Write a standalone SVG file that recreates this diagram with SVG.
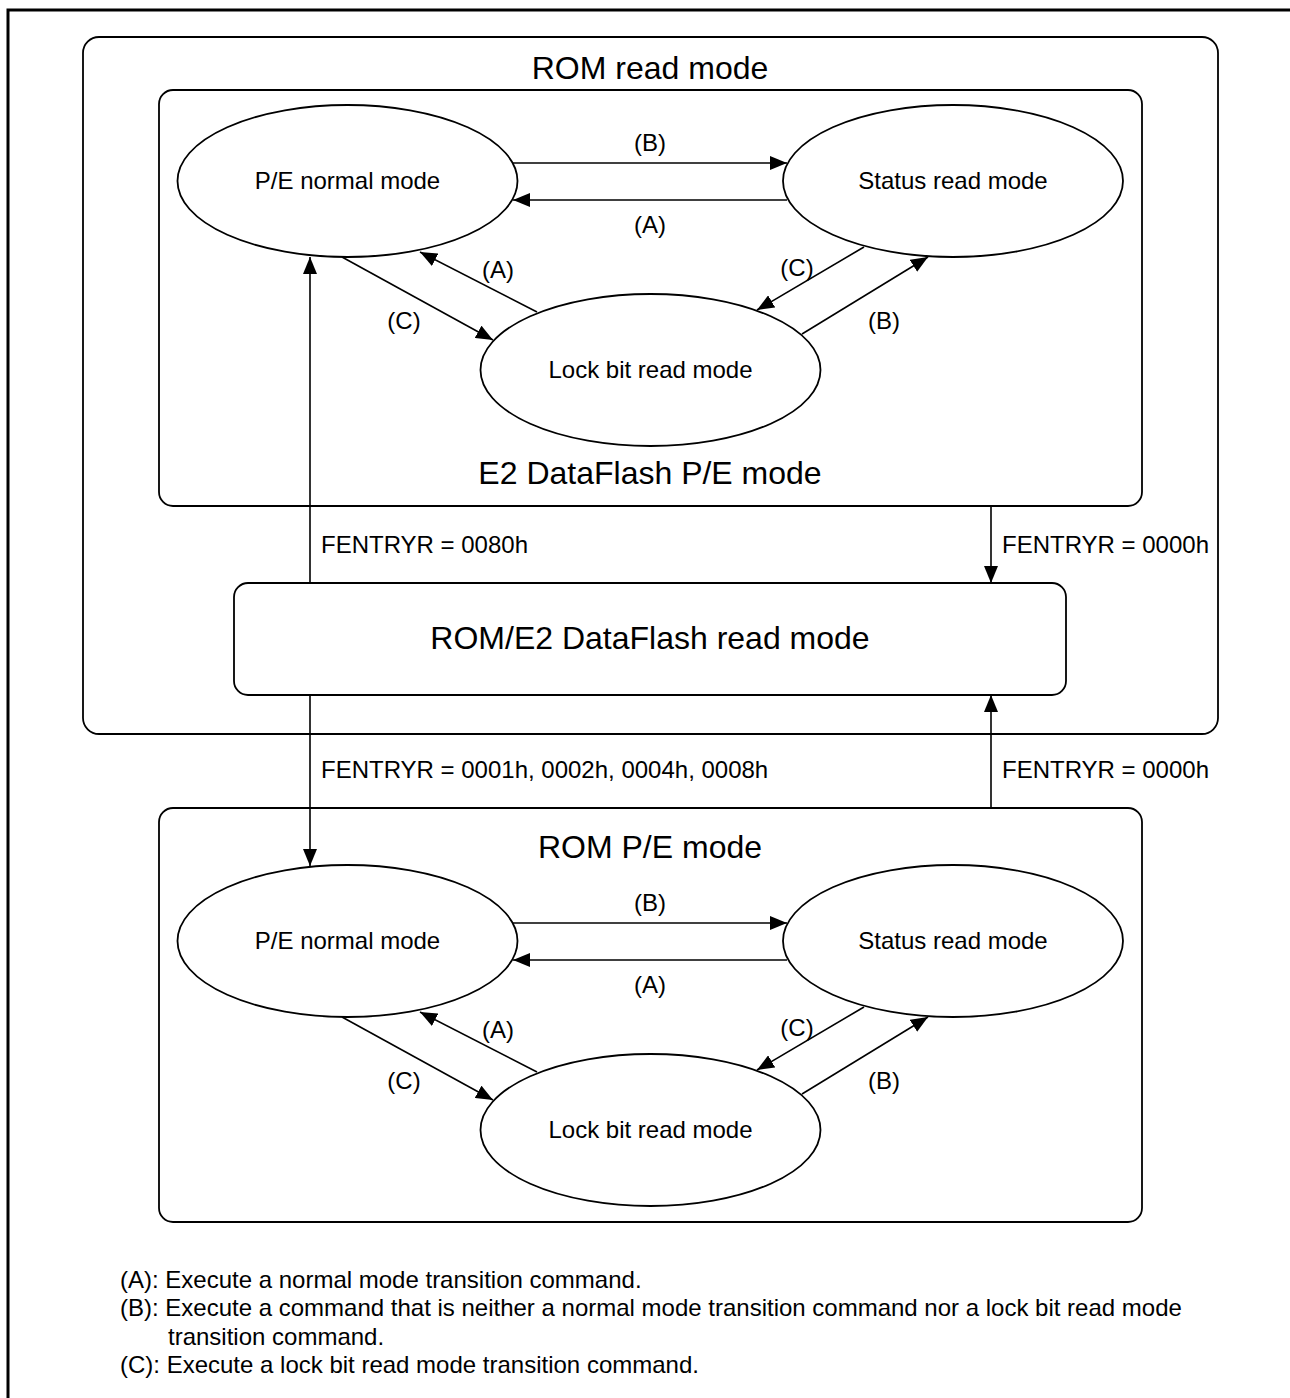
<svg xmlns="http://www.w3.org/2000/svg" width="1290" height="1398" viewBox="0 0 1290 1398">
<defs>
<marker id="ah" markerUnits="userSpaceOnUse" markerWidth="18" markerHeight="14" refX="17" refY="7" orient="auto">
<path d="M0,0 L17,7 L0,14 z" fill="#000"/>
</marker>
<style>
.t{font-family:"Liberation Sans",Arial,sans-serif;fill:#000}
.s24{font-size:24px}
.s32{font-size:32px}
.box{fill:none;stroke:#000;stroke-width:1.8}
.ell{fill:#fff;stroke:#000;stroke-width:1.8}
.ln{fill:none;stroke:#000;stroke-width:1.6}
.arr{fill:none;stroke:#000;stroke-width:1.6;marker-end:url(#ah)}
</style>
</defs>
<rect width="1290" height="1398" fill="#fff"/>
<g id="frame">
<path d="M8,1398 L8,10 L1290,10" fill="none" stroke="#000" stroke-width="3"/>
</g>
<g id="rom-read-mode">
<rect class="box" x="83" y="37" width="1135" height="697" rx="16"/>
<text class="t s32" x="650" y="79" text-anchor="middle">ROM read mode</text>
</g>
<g id="e2-pe-mode">
<rect class="box" x="159" y="90" width="983" height="416" rx="14"/>
<text class="t s32" x="650" y="484" text-anchor="middle">E2 DataFlash P/E mode</text>
</g>
<g id="rom-e2-read-mode">
<rect class="box" x="234" y="583" width="832" height="112" rx="14"/>
<text class="t s32" x="650" y="649" text-anchor="middle">ROM/E2 DataFlash read mode</text>
</g>
<g id="rom-pe-mode">
<rect class="box" x="159" y="808" width="983" height="414" rx="14"/>
<text class="t s32" x="650" y="858" text-anchor="middle">ROM P/E mode</text>
</g>
<g id="connectors">
<line class="arr" x1="513" y1="163" x2="787" y2="163"/>
<line class="arr" x1="787" y1="200" x2="513" y2="200"/>
<line class="arr" x1="342" y1="257" x2="493" y2="340"/>
<line class="arr" x1="537" y1="312" x2="420" y2="252"/>
<line class="arr" x1="864" y1="247" x2="757" y2="310"/>
<line class="arr" x1="802" y1="334" x2="928" y2="257"/>
<line class="arr" x1="513" y1="923" x2="787" y2="923"/>
<line class="arr" x1="787" y1="960" x2="513" y2="960"/>
<line class="arr" x1="342" y1="1017" x2="493" y2="1100"/>
<line class="arr" x1="537" y1="1072" x2="420" y2="1012"/>
<line class="arr" x1="864" y1="1007" x2="757" y2="1070"/>
<line class="arr" x1="802" y1="1094" x2="928" y2="1017"/>
<line class="arr" x1="310" y1="583" x2="310" y2="257"/>
<line class="arr" x1="991" y1="506" x2="991" y2="583"/>
<line class="arr" x1="310" y1="695" x2="310" y2="866"/>
<line class="arr" x1="991" y1="808" x2="991" y2="695"/>
<g class="t s24">
<text x="650" y="151" text-anchor="middle">(B)</text>
<text x="650" y="233" text-anchor="middle">(A)</text>
<text x="498" y="278" text-anchor="middle">(A)</text>
<text x="404" y="329" text-anchor="middle">(C)</text>
<text x="797" y="276" text-anchor="middle">(C)</text>
<text x="884" y="329" text-anchor="middle">(B)</text>
<text x="650" y="911" text-anchor="middle">(B)</text>
<text x="650" y="993" text-anchor="middle">(A)</text>
<text x="498" y="1038" text-anchor="middle">(A)</text>
<text x="404" y="1089" text-anchor="middle">(C)</text>
<text x="797" y="1036" text-anchor="middle">(C)</text>
<text x="884" y="1089" text-anchor="middle">(B)</text>
<text x="321" y="553">FENTRYR = 0080h</text>
<text x="1002" y="553">FENTRYR = 0000h</text>
<text x="321" y="778">FENTRYR = 0001h, 0002h, 0004h, 0008h</text>
<text x="1002" y="778">FENTRYR = 0000h</text>
</g>
</g>
<g id="pe-normal-top">
<ellipse class="ell" cx="347.5" cy="181" rx="170" ry="76"/>
<text class="t s24" x="347.5" y="189" text-anchor="middle">P/E normal mode</text>
</g>
<g id="status-read-top">
<ellipse class="ell" cx="953" cy="181" rx="170" ry="76"/>
<text class="t s24" x="953" y="189" text-anchor="middle">Status read mode</text>
</g>
<g id="lock-bit-top">
<ellipse class="ell" cx="650.5" cy="370" rx="170" ry="76"/>
<text class="t s24" x="650.5" y="378" text-anchor="middle">Lock bit read mode</text>
</g>
<g id="pe-normal-bottom">
<ellipse class="ell" cx="347.5" cy="941" rx="170" ry="76"/>
<text class="t s24" x="347.5" y="949" text-anchor="middle">P/E normal mode</text>
</g>
<g id="status-read-bottom">
<ellipse class="ell" cx="953" cy="941" rx="170" ry="76"/>
<text class="t s24" x="953" y="949" text-anchor="middle">Status read mode</text>
</g>
<g id="lock-bit-bottom">
<ellipse class="ell" cx="650.5" cy="1130" rx="170" ry="76"/>
<text class="t s24" x="650.5" y="1138" text-anchor="middle">Lock bit read mode</text>
</g>
<g id="legend" class="t s24">
<text x="120" y="1288">(A): Execute a normal mode transition command.</text>
<text x="120" y="1316">(B): Execute a command that is neither a normal mode transition command nor a lock bit read mode</text>
<text x="168" y="1345">transition command.</text>
<text x="120" y="1373">(C): Execute a lock bit read mode transition command.</text>
</g>
</svg>
